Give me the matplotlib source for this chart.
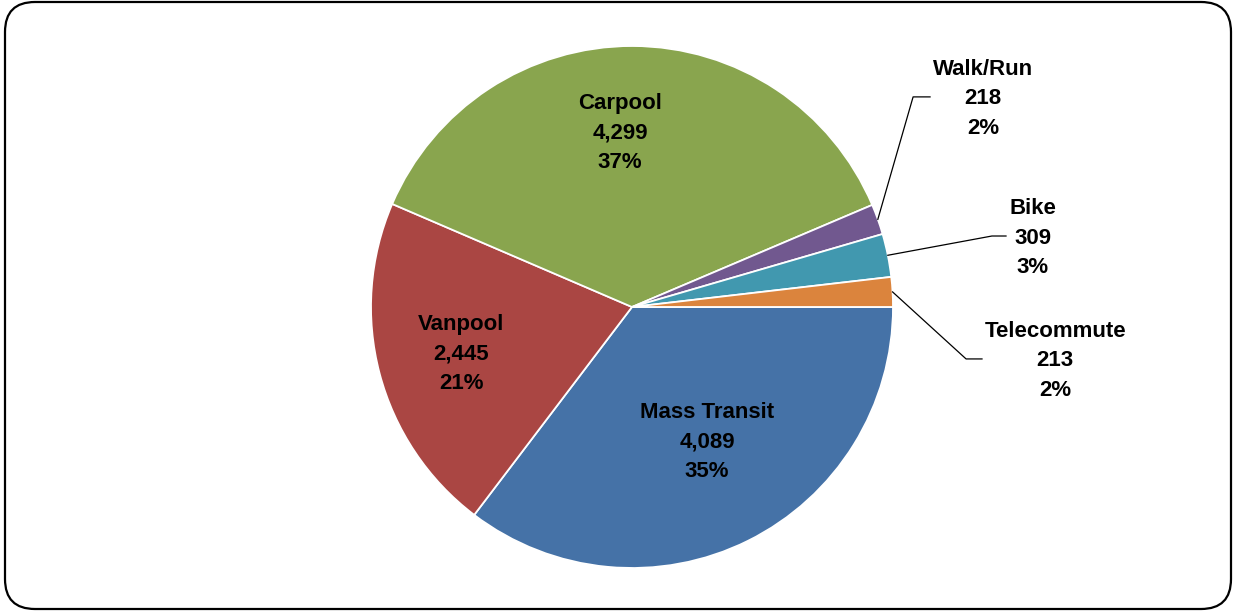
import numpy as np
import matplotlib
matplotlib.use("Agg")
import matplotlib.pyplot as plt
from matplotlib.patches import FancyBboxPatch

# data
modes = ["Mass Transit", "Vanpool", "Carpool", "Walk/Run", "Bike", "Telecommute"]
counts = [4089, 2445, 4299, 218, 309, 213]
percents = ["35%", "21%", "37%", "2%", "3%", "2%"]
colors = ["#4572A7", "#AA4643", "#89A54E", "#71588F", "#4198AF", "#DB843D"]

# label placement (radius fraction, angle shift in degrees / pie-radius units)
inside_pos = {"Mass Transit": (0.585, 3.0), "Vanpool": (0.677, 0.0), "Carpool": (0.676, 4.0)}
outside_pos = {"Walk/Run": (1.345, 0.805), "Bike": (1.536, 0.272), "Telecommute": (1.621, -0.199)}
outside_line = {"Walk/Run": (1.077, 1.142), "Bike": (1.379, 1.433), "Telecommute": (1.280, 1.341)}

W, H = 1233, 611
cx, cy, R = 632, 307, 261   # pie centre / radius in pixels (top origin)

fig = plt.figure(figsize=(W / 100, H / 100), dpi=100)
ax = fig.add_axes([0, 0, 1, 1])

def px(x, y):
    return (x - cx) / R, (cy - y) / R

# rounded outer frame
x0, y0 = px(5, 609)
x1, y1 = px(1231, 2)
frame = FancyBboxPatch((x0, y0), x1 - x0, y1 - y0,
                       boxstyle="round,pad=0,rounding_size=%f" % (30 / R),
                       fc="white", ec="black", lw=1.6, zorder=0)
ax.add_patch(frame)

wedges, _ = ax.pie(counts, colors=colors, startangle=0, counterclock=False,
                   radius=1, center=(0, 0), frame=True,
                   wedgeprops=dict(edgecolor="white", linewidth=1.3))
ax.set_xlim(-cx / R, (W - cx) / R)
ax.set_ylim(-(H - cy) / R, cy / R)
ax.set_aspect("auto")
ax.axis("off")

font = dict(family=["Liberation Sans", "DejaVu Sans"], fontsize=16,
            fontweight="bold", ha="center", va="center", color="black")
step = 29.5 / R
nudge = -2 / R   # small downward shift of the text blocks

for w, name, n, pct in zip(wedges, modes, counts, percents):
    mid = np.deg2rad((w.theta1 + w.theta2) / 2)
    if name in inside_pos:
        r, shift = inside_pos[name]
        a = mid + np.deg2rad(shift)
        tx, ty = r * np.cos(a), r * np.sin(a)
    else:
        tx, ty = outside_pos[name]
        ex, endx = outside_line[name]
        ax.plot([np.cos(mid), ex, endx], [np.sin(mid), ty, ty],
                color="black", lw=0.9, zorder=3)
    for k, line in enumerate([name, f"{n:,}", pct]):
        ax.text(tx, ty + nudge + (1 - k) * step, line, **font, zorder=4)

fig.savefig("out.png", dpi=100)
